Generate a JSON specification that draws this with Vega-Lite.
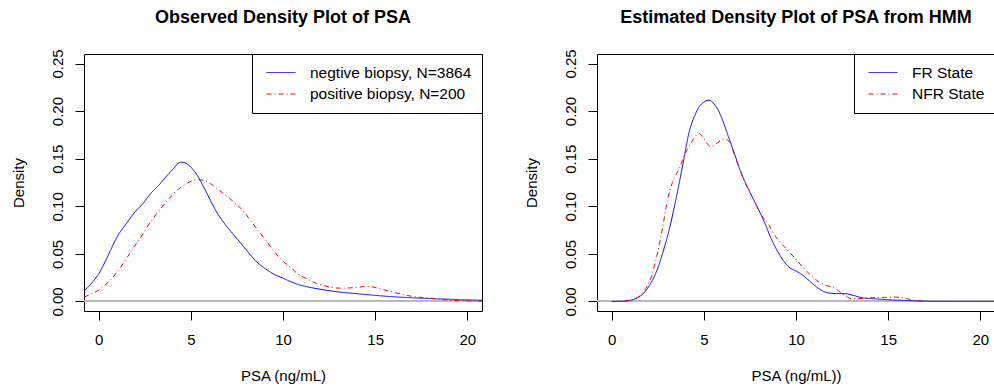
{
  "$schema": "https://vega.github.io/schema/vega-lite/v6.json",
  "background": "white",
  "padding": {"left": 10, "top": 8, "right": 0, "bottom": 0},
  "spacing": 40,
  "datasets": {
    "obs": [
      {"psa": -0.8, "density": 0.011, "group": "negtive biopsy, N=3864"},
      {"psa": -0.4, "density": 0.019, "group": "negtive biopsy, N=3864"},
      {"psa": 0.0, "density": 0.029, "group": "negtive biopsy, N=3864"},
      {"psa": 0.5, "density": 0.048, "group": "negtive biopsy, N=3864"},
      {"psa": 1.0, "density": 0.068, "group": "negtive biopsy, N=3864"},
      {"psa": 1.5, "density": 0.082, "group": "negtive biopsy, N=3864"},
      {"psa": 1.9, "density": 0.0925, "group": "negtive biopsy, N=3864"},
      {"psa": 2.4, "density": 0.103, "group": "negtive biopsy, N=3864"},
      {"psa": 2.8, "density": 0.113, "group": "negtive biopsy, N=3864"},
      {"psa": 3.3, "density": 0.123, "group": "negtive biopsy, N=3864"},
      {"psa": 3.7, "density": 0.132, "group": "negtive biopsy, N=3864"},
      {"psa": 4.05, "density": 0.1395, "group": "negtive biopsy, N=3864"},
      {"psa": 4.25, "density": 0.1442, "group": "negtive biopsy, N=3864"},
      {"psa": 4.45, "density": 0.1463, "group": "negtive biopsy, N=3864"},
      {"psa": 4.65, "density": 0.1458, "group": "negtive biopsy, N=3864"},
      {"psa": 4.85, "density": 0.1438, "group": "negtive biopsy, N=3864"},
      {"psa": 5.05, "density": 0.140, "group": "negtive biopsy, N=3864"},
      {"psa": 5.35, "density": 0.1325, "group": "negtive biopsy, N=3864"},
      {"psa": 5.7, "density": 0.12, "group": "negtive biopsy, N=3864"},
      {"psa": 6.07, "density": 0.106, "group": "negtive biopsy, N=3864"},
      {"psa": 6.4, "density": 0.094, "group": "negtive biopsy, N=3864"},
      {"psa": 6.8, "density": 0.0825, "group": "negtive biopsy, N=3864"},
      {"psa": 7.3, "density": 0.0705, "group": "negtive biopsy, N=3864"},
      {"psa": 7.7, "density": 0.0615, "group": "negtive biopsy, N=3864"},
      {"psa": 8.1, "density": 0.052, "group": "negtive biopsy, N=3864"},
      {"psa": 8.58, "density": 0.0414, "group": "negtive biopsy, N=3864"},
      {"psa": 9.0, "density": 0.035, "group": "negtive biopsy, N=3864"},
      {"psa": 9.48, "density": 0.029, "group": "negtive biopsy, N=3864"},
      {"psa": 10.0, "density": 0.0245, "group": "negtive biopsy, N=3864"},
      {"psa": 10.4, "density": 0.021, "group": "negtive biopsy, N=3864"},
      {"psa": 10.8, "density": 0.018, "group": "negtive biopsy, N=3864"},
      {"psa": 11.3, "density": 0.0155, "group": "negtive biopsy, N=3864"},
      {"psa": 12.2, "density": 0.0123, "group": "negtive biopsy, N=3864"},
      {"psa": 13.1, "density": 0.0098, "group": "negtive biopsy, N=3864"},
      {"psa": 14.0, "density": 0.0082, "group": "negtive biopsy, N=3864"},
      {"psa": 14.9, "density": 0.0066, "group": "negtive biopsy, N=3864"},
      {"psa": 15.8, "density": 0.0052, "group": "negtive biopsy, N=3864"},
      {"psa": 16.7, "density": 0.0042, "group": "negtive biopsy, N=3864"},
      {"psa": 17.6, "density": 0.0034, "group": "negtive biopsy, N=3864"},
      {"psa": 18.55, "density": 0.0027, "group": "negtive biopsy, N=3864"},
      {"psa": 19.5, "density": 0.002, "group": "negtive biopsy, N=3864"},
      {"psa": 20.8, "density": 0.0012, "group": "negtive biopsy, N=3864"},
      {"psa": -0.8, "density": 0.0046, "group": "positive biopsy, N=200"},
      {"psa": -0.4, "density": 0.008, "group": "positive biopsy, N=200"},
      {"psa": 0.1, "density": 0.0133, "group": "positive biopsy, N=200"},
      {"psa": 0.5, "density": 0.02, "group": "positive biopsy, N=200"},
      {"psa": 1.0, "density": 0.031, "group": "positive biopsy, N=200"},
      {"psa": 1.5, "density": 0.045, "group": "positive biopsy, N=200"},
      {"psa": 1.9, "density": 0.057, "group": "positive biopsy, N=200"},
      {"psa": 2.4, "density": 0.071, "group": "positive biopsy, N=200"},
      {"psa": 2.8, "density": 0.0834, "group": "positive biopsy, N=200"},
      {"psa": 3.3, "density": 0.096, "group": "positive biopsy, N=200"},
      {"psa": 3.72, "density": 0.106, "group": "positive biopsy, N=200"},
      {"psa": 4.2, "density": 0.116, "group": "positive biopsy, N=200"},
      {"psa": 4.62, "density": 0.122, "group": "positive biopsy, N=200"},
      {"psa": 5.0, "density": 0.1262, "group": "positive biopsy, N=200"},
      {"psa": 5.4, "density": 0.128, "group": "positive biopsy, N=200"},
      {"psa": 5.7, "density": 0.1272, "group": "positive biopsy, N=200"},
      {"psa": 6.07, "density": 0.1238, "group": "positive biopsy, N=200"},
      {"psa": 6.4, "density": 0.119, "group": "positive biopsy, N=200"},
      {"psa": 6.8, "density": 0.113, "group": "positive biopsy, N=200"},
      {"psa": 7.3, "density": 0.105, "group": "positive biopsy, N=200"},
      {"psa": 7.8, "density": 0.096, "group": "positive biopsy, N=200"},
      {"psa": 8.2, "density": 0.086, "group": "positive biopsy, N=200"},
      {"psa": 8.58, "density": 0.0764, "group": "positive biopsy, N=200"},
      {"psa": 9.0, "density": 0.066, "group": "positive biopsy, N=200"},
      {"psa": 9.48, "density": 0.0536, "group": "positive biopsy, N=200"},
      {"psa": 9.9, "density": 0.044, "group": "positive biopsy, N=200"},
      {"psa": 10.4, "density": 0.036, "group": "positive biopsy, N=200"},
      {"psa": 10.8, "density": 0.029, "group": "positive biopsy, N=200"},
      {"psa": 11.3, "density": 0.0238, "group": "positive biopsy, N=200"},
      {"psa": 11.7, "density": 0.02, "group": "positive biopsy, N=200"},
      {"psa": 12.2, "density": 0.0168, "group": "positive biopsy, N=200"},
      {"psa": 12.6, "density": 0.015, "group": "positive biopsy, N=200"},
      {"psa": 13.1, "density": 0.014, "group": "positive biopsy, N=200"},
      {"psa": 13.6, "density": 0.0142, "group": "positive biopsy, N=200"},
      {"psa": 14.1, "density": 0.015, "group": "positive biopsy, N=200"},
      {"psa": 14.56, "density": 0.0158, "group": "positive biopsy, N=200"},
      {"psa": 15.0, "density": 0.0148, "group": "positive biopsy, N=200"},
      {"psa": 15.47, "density": 0.0123, "group": "positive biopsy, N=200"},
      {"psa": 16.1, "density": 0.0092, "group": "positive biopsy, N=200"},
      {"psa": 16.74, "density": 0.0063, "group": "positive biopsy, N=200"},
      {"psa": 17.4, "density": 0.0045, "group": "positive biopsy, N=200"},
      {"psa": 18.0, "density": 0.0035, "group": "positive biopsy, N=200"},
      {"psa": 18.7, "density": 0.002, "group": "positive biopsy, N=200"},
      {"psa": 19.46, "density": 0.001, "group": "positive biopsy, N=200"},
      {"psa": 20.1, "density": 0.0006, "group": "positive biopsy, N=200"},
      {"psa": 20.8, "density": 0.0003, "group": "positive biopsy, N=200"}
    ],
    "est": [
      {"psa": 0.0, "density": 0.0, "group": "FR State"},
      {"psa": 0.6, "density": 0.0003, "group": "FR State"},
      {"psa": 1.12, "density": 0.0018, "group": "FR State"},
      {"psa": 1.4, "density": 0.0042, "group": "FR State"},
      {"psa": 1.66, "density": 0.0074, "group": "FR State"},
      {"psa": 1.95, "density": 0.014, "group": "FR State"},
      {"psa": 2.2, "density": 0.022, "group": "FR State"},
      {"psa": 2.5, "density": 0.035, "group": "FR State"},
      {"psa": 2.75, "density": 0.05, "group": "FR State"},
      {"psa": 3.11, "density": 0.0747, "group": "FR State"},
      {"psa": 3.47, "density": 0.106, "group": "FR State"},
      {"psa": 3.83, "density": 0.141, "group": "FR State"},
      {"psa": 4.2, "density": 0.178, "group": "FR State"},
      {"psa": 4.5, "density": 0.195, "group": "FR State"},
      {"psa": 4.74, "density": 0.2044, "group": "FR State"},
      {"psa": 5.0, "density": 0.2095, "group": "FR State"},
      {"psa": 5.28, "density": 0.2114, "group": "FR State"},
      {"psa": 5.55, "density": 0.2075, "group": "FR State"},
      {"psa": 5.83, "density": 0.199, "group": "FR State"},
      {"psa": 6.1, "density": 0.186, "group": "FR State"},
      {"psa": 6.37, "density": 0.171, "group": "FR State"},
      {"psa": 6.65, "density": 0.156, "group": "FR State"},
      {"psa": 6.91, "density": 0.141, "group": "FR State"},
      {"psa": 7.18, "density": 0.128, "group": "FR State"},
      {"psa": 7.45, "density": 0.1168, "group": "FR State"},
      {"psa": 7.72, "density": 0.106, "group": "FR State"},
      {"psa": 7.99, "density": 0.0957, "group": "FR State"},
      {"psa": 8.36, "density": 0.08, "group": "FR State"},
      {"psa": 8.63, "density": 0.067, "group": "FR State"},
      {"psa": 9.08, "density": 0.05, "group": "FR State"},
      {"psa": 9.35, "density": 0.042, "group": "FR State"},
      {"psa": 9.63, "density": 0.036, "group": "FR State"},
      {"psa": 10.0, "density": 0.032, "group": "FR State"},
      {"psa": 10.3, "density": 0.0285, "group": "FR State"},
      {"psa": 10.71, "density": 0.022, "group": "FR State"},
      {"psa": 11.0, "density": 0.017, "group": "FR State"},
      {"psa": 11.26, "density": 0.0133, "group": "FR State"},
      {"psa": 11.5, "density": 0.0105, "group": "FR State"},
      {"psa": 11.8, "density": 0.0088, "group": "FR State"},
      {"psa": 12.2, "density": 0.0083, "group": "FR State"},
      {"psa": 12.7, "density": 0.0081, "group": "FR State"},
      {"psa": 13.1, "density": 0.0065, "group": "FR State"},
      {"psa": 13.6, "density": 0.0039, "group": "FR State"},
      {"psa": 14.3, "density": 0.0028, "group": "FR State"},
      {"psa": 15.05, "density": 0.0018, "group": "FR State"},
      {"psa": 16.0, "density": 0.001, "group": "FR State"},
      {"psa": 16.9, "density": 0.0004, "group": "FR State"},
      {"psa": 18.0, "density": 0.0001, "group": "FR State"},
      {"psa": 20.8, "density": 0.0, "group": "FR State"},
      {"psa": 0.68, "density": 0.0, "group": "NFR State"},
      {"psa": 1.12, "density": 0.002, "group": "NFR State"},
      {"psa": 1.4, "density": 0.004, "group": "NFR State"},
      {"psa": 1.66, "density": 0.0088, "group": "NFR State"},
      {"psa": 1.95, "density": 0.017, "group": "NFR State"},
      {"psa": 2.2, "density": 0.029, "group": "NFR State"},
      {"psa": 2.47, "density": 0.05, "group": "NFR State"},
      {"psa": 2.75, "density": 0.0764, "group": "NFR State"},
      {"psa": 3.02, "density": 0.106, "group": "NFR State"},
      {"psa": 3.29, "density": 0.125, "group": "NFR State"},
      {"psa": 3.65, "density": 0.139, "group": "NFR State"},
      {"psa": 4.0, "density": 0.156, "group": "NFR State"},
      {"psa": 4.2, "density": 0.163, "group": "NFR State"},
      {"psa": 4.38, "density": 0.169, "group": "NFR State"},
      {"psa": 4.6, "density": 0.175, "group": "NFR State"},
      {"psa": 4.74, "density": 0.1764, "group": "NFR State"},
      {"psa": 5.0, "density": 0.171, "group": "NFR State"},
      {"psa": 5.2, "density": 0.1655, "group": "NFR State"},
      {"psa": 5.37, "density": 0.163, "group": "NFR State"},
      {"psa": 5.55, "density": 0.164, "group": "NFR State"},
      {"psa": 5.73, "density": 0.1665, "group": "NFR State"},
      {"psa": 6.1, "density": 0.171, "group": "NFR State"},
      {"psa": 6.37, "density": 0.168, "group": "NFR State"},
      {"psa": 6.73, "density": 0.15, "group": "NFR State"},
      {"psa": 7.18, "density": 0.127, "group": "NFR State"},
      {"psa": 7.63, "density": 0.1097, "group": "NFR State"},
      {"psa": 8.08, "density": 0.092, "group": "NFR State"},
      {"psa": 8.54, "density": 0.08, "group": "NFR State"},
      {"psa": 8.9, "density": 0.068, "group": "NFR State"},
      {"psa": 9.25, "density": 0.06, "group": "NFR State"},
      {"psa": 9.63, "density": 0.052, "group": "NFR State"},
      {"psa": 10.1, "density": 0.042, "group": "NFR State"},
      {"psa": 10.53, "density": 0.0326, "group": "NFR State"},
      {"psa": 10.9, "density": 0.026, "group": "NFR State"},
      {"psa": 11.26, "density": 0.0203, "group": "NFR State"},
      {"psa": 11.6, "density": 0.017, "group": "NFR State"},
      {"psa": 11.98, "density": 0.015, "group": "NFR State"},
      {"psa": 12.25, "density": 0.012, "group": "NFR State"},
      {"psa": 12.52, "density": 0.008, "group": "NFR State"},
      {"psa": 12.8, "density": 0.0045, "group": "NFR State"},
      {"psa": 13.06, "density": 0.0028, "group": "NFR State"},
      {"psa": 13.6, "density": 0.0032, "group": "NFR State"},
      {"psa": 14.15, "density": 0.0039, "group": "NFR State"},
      {"psa": 14.8, "density": 0.0042, "group": "NFR State"},
      {"psa": 15.42, "density": 0.0046, "group": "NFR State"},
      {"psa": 16.0, "density": 0.003, "group": "NFR State"},
      {"psa": 16.5, "density": 0.001, "group": "NFR State"},
      {"psa": 17.05, "density": 0.0, "group": "NFR State"}
    ]
  },
  "hconcat": [
    {
      "width": 398,
      "height": 257,
      "title": {"text": "Observed Density Plot of PSA"},
      "data": {"name": "obs"},
      "layer": [
        {
          "mark": {"type": "rule", "color": "#BEBEBE", "strokeWidth": 1},
          "encoding": {"y": {"datum": 0, "type": "quantitative"}}
        },
        {
          "mark": {"type": "line", "strokeWidth": 1, "interpolate": "monotone", "clip": true},
          "encoding": {
            "x": {"field": "psa", "type": "quantitative", "title": "PSA (ng/mL)",
                  "axis": {"values": [0, 5, 10, 15, 20]},
                  "scale": {"domain": [-0.8, 20.8], "nice": false, "zero": false}},
            "y": {"field": "density", "type": "quantitative", "title": "Density",
                  "axis": {"values": [0, 0.05, 0.1, 0.15, 0.2, 0.25], "format": ".2f"},
                  "scale": {"domain": [-0.01, 0.26], "nice": false, "zero": false}},
            "color": {"field": "group", "type": "nominal", "legend": {"title": null},
                      "scale": {"domain": ["negtive biopsy, N=3864", "positive biopsy, N=200"], "range": ["#0000FF", "#FF0000"]}},
            "strokeDash": {"field": "group", "type": "nominal", "legend": {"title": null},
                      "scale": {"domain": ["negtive biopsy, N=3864", "positive biopsy, N=200"], "range": [[1, 0], [5, 3, 1, 3]]}}
          }
        }
      ]
    },
    {
      "width": 398,
      "height": 257,
      "title": {"text": "Estimated Density Plot of PSA from HMM"},
      "data": {"name": "est"},
      "layer": [
        {
          "mark": {"type": "rule", "color": "#BEBEBE", "strokeWidth": 1},
          "encoding": {"y": {"datum": 0, "type": "quantitative"}}
        },
        {
          "mark": {"type": "line", "strokeWidth": 1, "interpolate": "monotone", "clip": true},
          "encoding": {
            "x": {"field": "psa", "type": "quantitative", "title": "PSA (ng/mL))",
                  "axis": {"values": [0, 5, 10, 15, 20]},
                  "scale": {"domain": [-0.8, 20.8], "nice": false, "zero": false}},
            "y": {"field": "density", "type": "quantitative", "title": "Density",
                  "axis": {"values": [0, 0.05, 0.1, 0.15, 0.2, 0.25], "format": ".2f"},
                  "scale": {"domain": [-0.01, 0.26], "nice": false, "zero": false}},
            "color": {"field": "group", "type": "nominal", "legend": {"title": null},
                      "scale": {"domain": ["FR State", "NFR State"], "range": ["#0000FF", "#FF0000"]}},
            "strokeDash": {"field": "group", "type": "nominal", "legend": {"title": null},
                      "scale": {"domain": ["FR State", "NFR State"], "range": [[1, 0], [5, 3, 1, 3]]}}
          }
        }
      ]
    }
  ],
  "resolve": {
    "scale": {"color": "independent", "strokeDash": "independent", "x": "independent", "y": "independent"},
    "legend": {"color": "independent", "strokeDash": "independent"}
  },
  "config": {
    "font": "Liberation Sans",
    "view": {"stroke": "black", "strokeWidth": 1},
    "title": {"fontSize": 18, "fontWeight": "bold", "color": "black", "frame": "group", "anchor": "middle", "baseline": "alphabetic", "offset": 22},
    "axis": {
      "domain": false, "grid": false, "ticks": true, "tickColor": "black", "tickSize": 9, "tickWidth": 1,
      "labelFontSize": 15, "labelColor": "black", "labelFlush": false, "labelOverlap": false,
      "titleFontSize": 15, "titleFontWeight": "normal", "titleColor": "black"
    },
    "axisX": {"labelPadding": 12, "titlePadding": 21},
    "axisY": {"labelAngle": -90, "labelAlign": "center", "labelBaseline": "bottom", "labelPadding": 10, "titlePadding": 24},
    "legend": {
      "orient": "top-right", "offset": 0, "fillColor": "white", "strokeColor": "black",
      "padding": 10.5, "rowPadding": 4.5, "labelFontSize": 15.5, "labelColor": "black", "labelLimit": 400,
      "symbolType": "M-0.53,0H3.33", "symbolSize": 225, "symbolStrokeWidth": 1, "labelOffset": 31.5
    }
  }
}
